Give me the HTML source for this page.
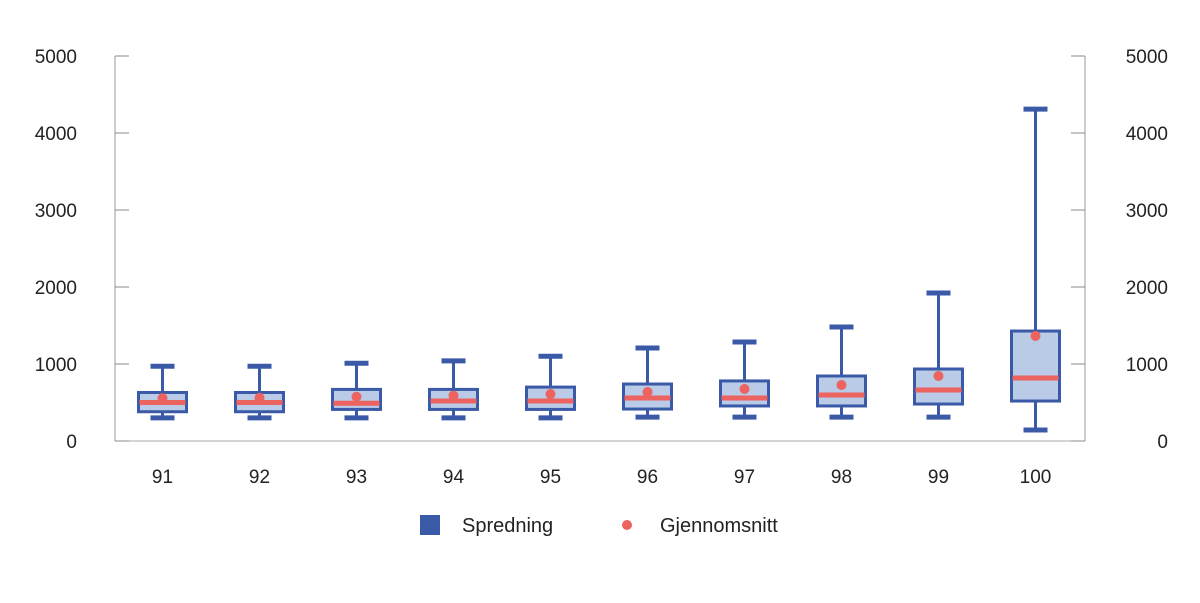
<!DOCTYPE html>
<html><head><meta charset="utf-8"><style>
body{margin:0;background:#fff}
text{font-family:"Liberation Sans",sans-serif;fill:#222}
</style></head><body>
<svg id="c" width="1200" height="598"></svg>
<script>
const categories=["91","92","93","94","95","96","97","98","99","100"];
const mins=[300,300,300,300,300,310,310,310,310,143];
const q1s=[380,380,410,410,410,415,455,455,480,519];
const medians=[500,500,490,520,520,558,558,597,662,818];
const q3s=[630,630,670,670,700,740,780,844,935,1428];
const maxs=[970,970,1010,1040,1100,1208,1286,1480,1922,4310];
const means=[555,560,575,590,610,636,675,727,844,1364];
const yTicks=[0,1000,2000,3000,4000,5000];
const svg=document.getElementById('c');const NS='http://www.w3.org/2000/svg';
function mk(t,a,p){const e=document.createElementNS(NS,t);for(const k in a)e.setAttribute(k,a[k]);(p||svg).appendChild(e);return e;}
const L=115,R=1085,T=56,B=441;
const y=v=>B-(v/5000)*(B-T);
const x=i=>L+(R-L)/categories.length*(i+0.5)-1;
let e;
e=mk('line',{x1:L,y1:T,x2:L,y2:B,stroke:'#999'});
e=mk('line',{x1:R,y1:T,x2:R,y2:B,stroke:'#999'});
e=mk('line',{x1:L,y1:B,x2:R,y2:B,stroke:'#aaa'});
yTicks.forEach(v=>{
 mk('line',{x1:L,y1:y(v),x2:L+14,y2:y(v),stroke:'#888'});
 mk('line',{x1:R-14,y1:y(v),x2:R,y2:y(v),stroke:'#888'});
 e=mk('text',{x:77,y:y(v)+7,'text-anchor':'end','font-size':19});e.textContent=v;
 
 e=mk('text',{x:1168,y:y(v)+7,'text-anchor':'end','font-size':19});e.textContent=v;
 
});
const blue='#3a5aa8',red='#ec6360';
categories.forEach((c,i)=>{
 const cx=x(i);
 const g=mk('g',{});
 mk('line',{x1:cx,y1:y(maxs[i]),x2:cx,y2:y(q3s[i]),stroke:blue,'stroke-width':3},g);
 mk('line',{x1:cx,y1:y(q1s[i]),x2:cx,y2:y(mins[i]),stroke:blue,'stroke-width':3},g);
 mk('line',{x1:cx-12,y1:y(maxs[i]),x2:cx+12,y2:y(maxs[i]),stroke:blue,'stroke-width':5},g);
 mk('line',{x1:cx-12,y1:y(mins[i]),x2:cx+12,y2:y(mins[i]),stroke:blue,'stroke-width':5},g);
 mk('rect',{x:cx-24,y:y(q3s[i]),width:48,height:y(q1s[i])-y(q3s[i]),fill:'#b9cbe7',stroke:blue,'stroke-width':3},g);
 mk('line',{x1:cx-23,y1:y(medians[i]),x2:cx+23,y2:y(medians[i]),stroke:red,'stroke-width':5},g);
 mk('circle',{cx:cx,cy:y(means[i]),r:5,fill:red},g);
 e=mk('text',{x:cx,y:483,'text-anchor':'middle','font-size':19});e.textContent=c;
 
});
e=mk('rect',{x:420,y:515,width:20,height:20,fill:blue});
e=mk('text',{x:462,y:532,'font-size':20});e.textContent='Spredning';
e=mk('circle',{cx:627,cy:525,r:5,fill:red});
e=mk('text',{x:660,y:532,'font-size':20});e.textContent='Gjennomsnitt';
</script>
</body></html>
